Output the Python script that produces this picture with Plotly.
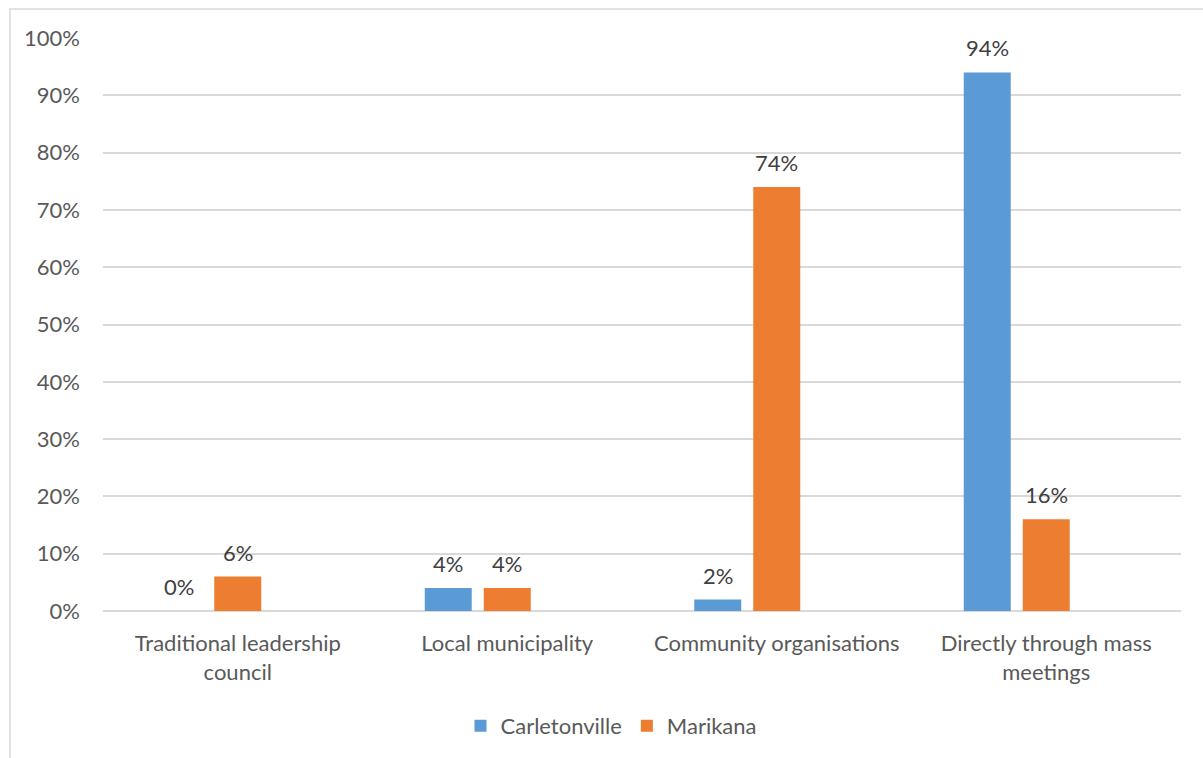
import plotly.graph_objects as go

# Survey data: channels through which residents engage, by site
categories = [
    "Traditional leadership<br>council",
    "Local municipality",
    "Community organisations",
    "Directly through mass<br>meetings",
]
carletonville = [0.00, 0.04, 0.02, 0.94]
marikana = [0.06, 0.04, 0.74, 0.16]

BLUE = "#5B9BD5"
ORANGE = "#ED7D31"
FONT = "Lato"
FS = 22
GRID = "#D9D9D9"

# Plot geometry (pixels)
W, H = 1203, 758
L, R, T, B = 103, 22, 38, 146
cat_px = (W - L - R) / len(categories)
bar_px = 47
step_px = 59

bar_w = bar_px / cat_px
fig = go.Figure()
fig.add_trace(go.Bar(
    name="Carletonville", x=categories, y=carletonville,
    marker=dict(color=BLUE, line=dict(width=0)),
    width=bar_w, offset=-(step_px + bar_px / 2) / cat_px,
))
fig.add_trace(go.Bar(
    name="Marikana", x=categories, y=marikana,
    marker=dict(color=ORANGE, line=dict(width=0)),
    width=bar_w, offset=-(bar_px / 2) / cat_px,
))

# Value labels above each bar
annotations = []
for series, shift in ((carletonville, -step_px), (marikana, 0)):
    for c, v in zip(categories, series):
        annotations.append(dict(
            x=c, y=v, xref="x", yref="y", text=f"{round(v * 100)}%",
            showarrow=False, xshift=shift, yshift=9, yanchor="bottom",
            font=dict(family=FONT, size=FS, color="#404040"),
        ))

# Chart area frame (left/top edges visible)
pw, ph = W - L - R, H - T - B
shapes = [dict(
    type="rect", xref="paper", yref="paper", layer="below",
    x0=(10 - L) / pw, x1=(W + 5 - L) / pw,
    y0=(H - B - (H + 5)) / ph, y1=(H - B - 9) / ph,
    line=dict(color=GRID, width=1.5), fillcolor="rgba(0,0,0,0)",
)]

fig.update_layout(
    width=W, height=H,
    margin=dict(l=L, r=R, t=T, b=B, pad=0),
    paper_bgcolor="white", plot_bgcolor="white",
    barmode="overlay",
    font=dict(family=FONT, size=FS, color="#595959"),
    showlegend=True,
    legend=dict(
        orientation="h", x=(611 - L) / pw, xanchor="center",
        y=(H - B - 726) / ph, yanchor="middle",
        font=dict(family=FONT, size=FS, color="#595959"),
        itemwidth=30, traceorder="normal",
    ),
    annotations=annotations,
    shapes=shapes,
)
fig.update_yaxes(
    range=[0, 1], dtick=0.1, tickformat=".0%",
    showgrid=True, gridcolor=GRID, gridwidth=1.5,
    zeroline=True, zerolinecolor=GRID, zerolinewidth=1.5,
    showline=False, ticks="", ticklabelstandoff=22,
    tickfont=dict(family=FONT, size=FS, color="#595959"),
)
fig.update_xaxes(
    showgrid=False, showline=False, ticks="", ticklabelstandoff=17,
    tickfont=dict(family=FONT, size=FS, color="#595959"),
)

fig.write_html("out.html")
